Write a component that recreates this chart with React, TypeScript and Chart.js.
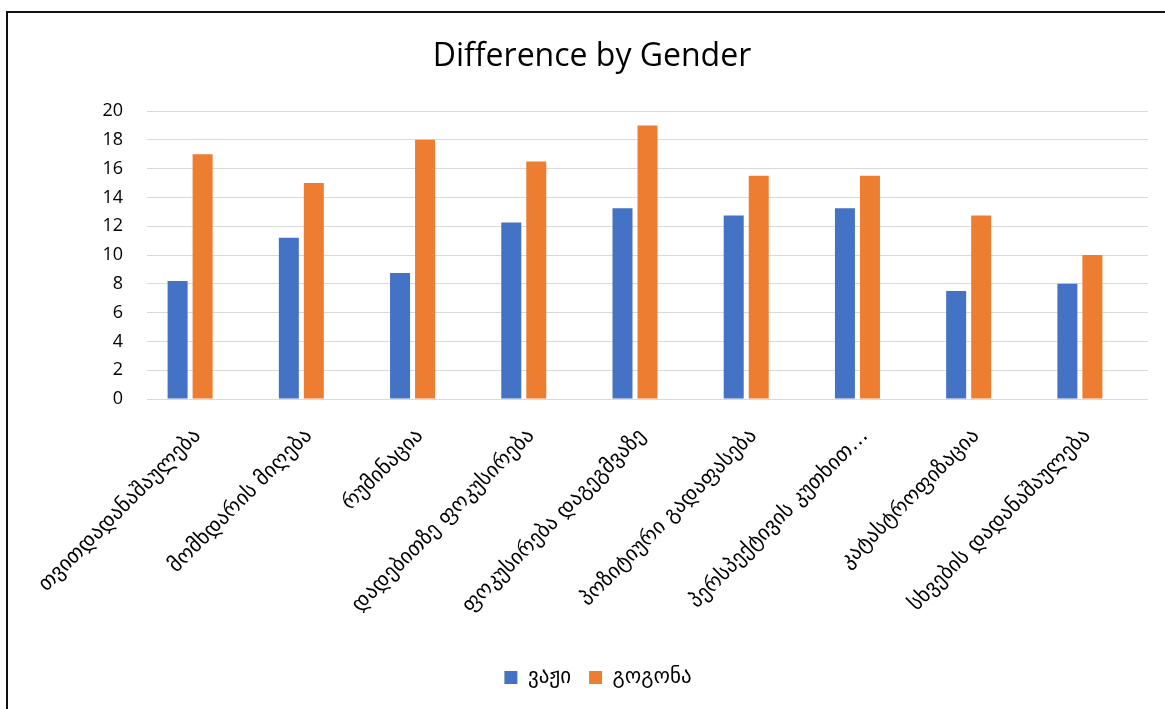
import React, { useEffect, useRef } from "react";
import { Chart, registerables } from "chart.js";

Chart.register(...registerables);

const categories = [
  "თვითდადანაშაულება",
  "მომხდარის მიღება",
  "რუმინაცია",
  "დადებითზე ფოკუსირება",
  "ფოკუსირება დაგეგმვაზე",
  "პოზიტიური გადაფასება",
  "პერსპექტივის კუთხით…",
  "კატასტროფიზაცია",
  "სხვების დადანაშაულება",
];
const boysLabel = "ვაჟი";
const girlsLabel = "გოგონა";
const boys = [8.2, 11.2, 8.75, 12.25, 13.25, 12.75, 13.25, 7.5, 8.0];
const girls = [17, 15, 18, 16.5, 19, 15.5, 15.5, 12.75, 10];
const emptySeries = [null, null, null, null, null, null, null, null, null];
const yTicksMax = 20;
const yTicksStep = 2;
const titleText = "Difference by Gender";

const boxShift = {
  id: "boxShift",
  afterLayout(chart: any) {
    if (chart.legend) {
      chart.legend.left += 20;
      chart.legend.right += 20;
    }
    if (chart.titleBlock) {
      chart.titleBlock.left += 14;
      chart.titleBlock.right += 14;
    }
  },
};

export default function App() {
  const ref = useRef<HTMLCanvasElement | null>(null);
  useEffect(() => {
    if (!ref.current) return;
    const chart = new Chart(ref.current, {
      type: "bar",
      data: {
        labels: categories,
        datasets: [
          { label: boysLabel, data: boys, backgroundColor: "#4472C4" },
          { label: girlsLabel, data: girls, backgroundColor: "#ED7D31" },
          { label: "", data: emptySeries as any, backgroundColor: "#A5A5A5" },
        ],
      },
      plugins: [boxShift],
      options: {
        responsive: false,
        animation: false,
        events: [],
        datasets: { bar: { categoryPercentage: 0.6745, barPercentage: 0.8 } },
        layout: { padding: { top: 0, left: 0, right: 17, bottom: 11 } },
        plugins: {
          tooltip: { enabled: false },
          title: {
            display: true,
            text: titleText,
            color: "#000",
            font: { family: "'Open Sans'", size: 32, weight: "normal", lineHeight: 1.25 },
            padding: { top: 24, bottom: 34 },
          },
          legend: {
            position: "bottom",
            labels: {
              filter: (item) => item.text !== "",
              boxWidth: 13,
              boxHeight: 13,
              padding: 18,
              color: "#000",
              font: { family: "'DejaVu Sans'", size: 21 },
            },
          },
        },
        scales: {
          x: {
            grid: { display: false },
            border: { display: false },
            ticks: {
              color: "#000",
              minRotation: 45,
              maxRotation: 45,
              autoSkip: false,
              padding: 17,
              labelOffset: -5,
              font: { family: "'DejaVu Sans'", size: 21 },
            },
            afterFit: (scale: any) => {
              scale.height = 250;
            },
          },
          y: {
            min: 0,
            max: yTicksMax,
            grid: { color: "#D9D9D9", lineWidth: 1, drawTicks: false },
            border: { display: false },
            ticks: {
              stepSize: yTicksStep,
              color: "#000",
              padding: 24,
              font: { family: "'Open Sans'", size: 18 },
            },
            afterFit: (scale: any) => {
              scale.width = 139;
            },
          },
        },
      },
    });
    return () => chart.destroy();
  }, []);
  return (
    <div
      style={{
        position: "fixed",
        left: 6,
        top: 11,
        width: 1159,
        height: 698,
        borderLeft: "2px solid #111",
        borderTop: "2px solid #111",
        background: "#fff",
      }}
    >
      <canvas ref={ref} width={1157} height={696} style={{ display: "block" }} />
    </div>
  );
}
